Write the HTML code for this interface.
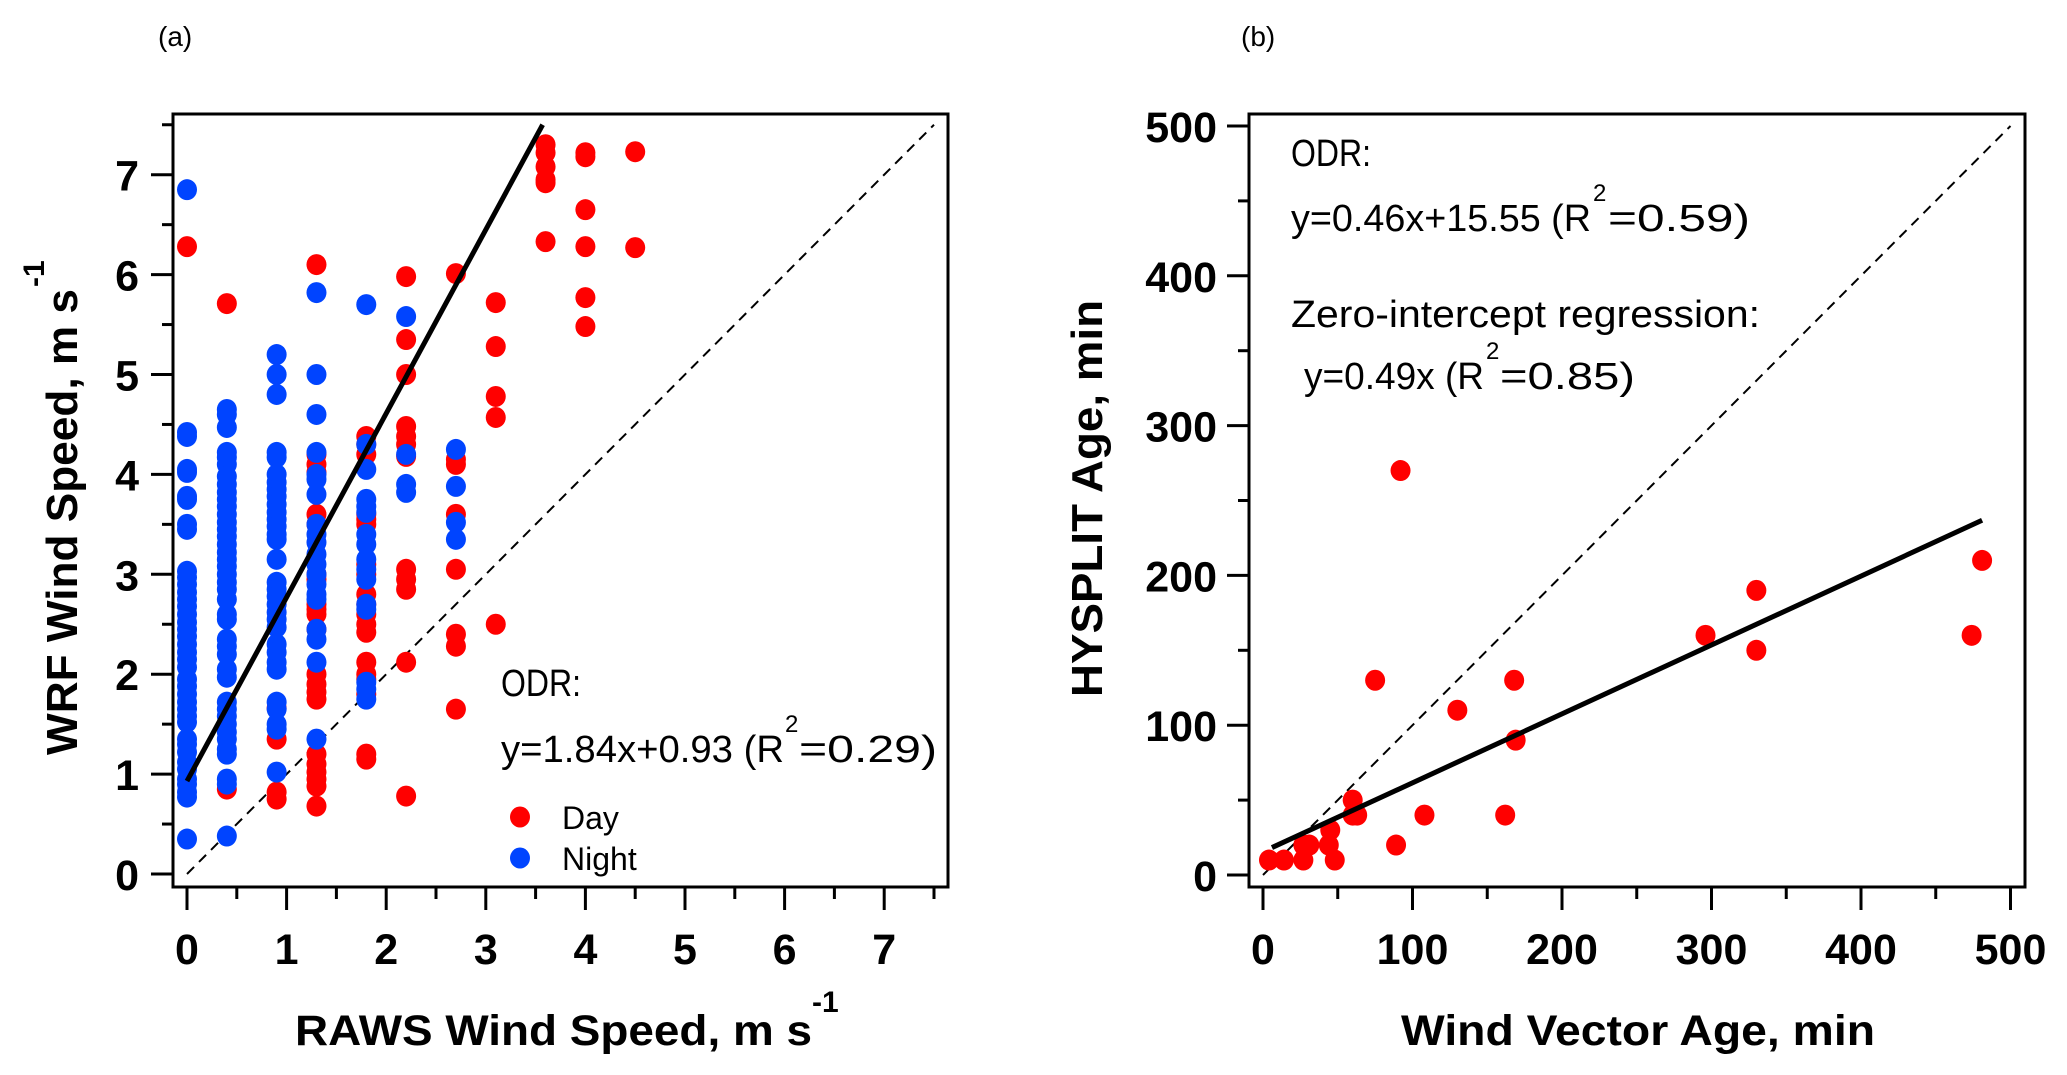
<!DOCTYPE html>
<html><head><meta charset="utf-8"><style>
html,body{margin:0;padding:0;background:#fff}
svg{display:block}
text{font-family:"Liberation Sans",Arial,sans-serif}
</style></head><body>
<svg id="fig" width="2067" height="1075" viewBox="0 0 2067 1075" xmlns="http://www.w3.org/2000/svg">
<text x="158" y="46" font-size="28">(a)</text>
<text x="1241" y="46" font-size="28">(b)</text>
<g id="pa"></g>
<g id="pb"></g>
</svg>
<script>
// ---- Panel A data ----
const aDayX = [0, 0.4,0.4, 0.9,0.9,0.9,0.9,
 1.3,1.3,1.3,1.3,1.3,1.3,1.3,1.3,1.3,1.3,1.3,1.3,1.3,1.3,1.3,1.3,1.3,1.3,1.3,1.3,1.3,1.3,
 1.8,1.8,1.8,1.8,1.8,1.8,1.8,1.8,1.8,1.8,1.8,1.8,1.8,1.8,1.8,1.8,1.8,1.8,1.8,
 2.2,2.2,2.2,2.2,2.2,2.2,2.2,2.2,2.2,2.2,2.2,2.2,
 2.7,2.7,2.7,2.7,2.7,2.7,2.7,2.7,
 3.1,3.1,3.1,3.1,3.1,
 3.6,3.6,3.6,3.6,3.6,3.6,
 4.0,4.0,4.0,4.0,4.0,4.0,
 4.5,4.5];
const aDayY = [6.28, 5.71,0.85, 1.66,1.35,0.82,0.75,
 6.1,4.2,4.1,4.02,3.6,3.5,3.0,2.95,2.7,2.65,2.6,2.45,2.0,1.9,1.82,1.75,1.2,1.1,1.02,0.95,0.88,0.68,
 4.38,4.3,4.2,3.6,3.55,3.5,3.1,3.0,2.8,2.7,2.6,2.5,2.42,2.12,2.0,1.95,1.8,1.2,1.15,
 5.98,5.35,5.0,4.48,4.38,4.3,4.18,3.05,2.95,2.85,2.12,0.78,
 6.01,4.15,4.1,3.6,3.05,2.4,2.28,1.65,
 5.72,5.28,4.78,4.57,2.5,
 7.3,7.22,7.08,6.95,6.92,6.33,
 7.22,7.18,6.65,6.28,5.77,5.48,
 7.23,6.27];
const aNightX0 = [6.85,4.42,4.38,4.05,4.02,3.78,3.75,3.5,3.45,3.03,2.97,2.9,2.82,2.75,2.68,2.6,2.52,2.45,2.38,2.3,2.22,2.15,2.07,1.95,1.88,1.8,1.72,1.65,1.58,1.52,1.35,1.3,1.22,1.12,1.05,0.95,0.9,0.82,0.77,0.35];
const aNightX04 = [4.65,4.6,4.47,4.22,4.17,4.1,3.98,3.9,3.82,3.75,3.68,3.6,3.52,3.45,3.38,3.3,3.22,3.15,3.08,3.0,2.92,2.85,2.75,2.6,2.55,2.35,2.28,2.2,2.05,1.97,1.72,1.65,1.58,1.5,1.42,1.35,1.25,1.2,0.95,0.9,0.38];
const aNightX09 = [5.2,5.0,4.8,4.22,4.17,4.0,3.92,3.85,3.78,3.7,3.62,3.55,3.48,3.4,3.35,3.15,2.92,2.85,2.78,2.7,2.62,2.55,2.47,2.3,2.22,2.12,2.05,1.72,1.65,1.5,1.45,1.02];
const aNightX13 = [5.82,5.0,4.6,4.22,4.0,3.95,3.8,3.5,3.4,3.32,3.2,3.1,3.0,2.9,2.8,2.75,2.45,2.35,2.12,1.35];
const aNightX18 = [5.7,4.3,4.05,3.75,3.68,3.62,3.4,3.3,3.15,3.05,2.95,2.7,2.65,1.92,1.85,1.75];
const aNightX22 = [5.58,4.2,3.9,3.82];
const aNightX27 = [4.25,3.88,3.52,3.35];
const aNightCols = [0,0.4,0.9,1.3,1.8,2.2,2.7];
const aTicks = [0,1,2,3,4,5,6,7];
const aFit = [1.84,0.93];
// ---- Panel B data ----
const bX = [4,14,27,27,31,44,45,48,60,60,63,89,75,92,108,130,162,168,169,296,330,330,474,481];
const bY = [10,10,10,20,20,20,30,10,50,40,40,20,130,270,40,110,40,130,90,160,190,150,160,210];
const bTicks = [0,100,200,300,400,500];
const bFit = [0.46,15.55];

const NS="http://www.w3.org/2000/svg";
function mk(parent,tag,attrs,txt){const e=document.createElementNS(NS,tag);for(const k in attrs)e.setAttribute(k,attrs[k]);if(txt!==undefined)e.textContent=txt;parent.appendChild(e);return e;}

// ===== Panel A =====
const A=document.getElementById('pa');
const ax=v=>187+v*99.6, ay=v=>874-v*99.9;
let f=mk(A,'rect',{x:173,y:114,width:775,height:773,fill:'none',stroke:'#000','stroke-width':3});


for(let i=0;i<=15;i++){const v=i*0.5;const l=mk(A,'line',{x1:ax(v),x2:ax(v),y1:887,y2:i%2?899:910,stroke:'#000','stroke-width':3});

}
for(let i=0;i<=15;i++){const v=i*0.5;const l=mk(A,'line',{x1:i%2?162:151,x2:173,y1:ay(v),y2:ay(v),stroke:'#000','stroke-width':3});

}
aTicks.forEach(v=>{let t=mk(A,'text',{x:ax(v),y:964,'font-size':43,'font-weight':'bold','text-anchor':'middle'},String(v));


t=mk(A,'text',{x:139,y:ay(v)+16,'font-size':43,'font-weight':'bold','text-anchor':'end'},String(v));

});
let t=mk(A,'text',{x:295,y:1045,'font-size':43,'font-weight':'bold',textLength:517,lengthAdjust:'spacingAndGlyphs'},'RAWS Wind Speed, m s');


t=mk(A,'text',{x:812,y:1012,'font-size':30,'font-weight':'bold'},'-1');


t=mk(A,'text',{x:0,y:0,'font-size':44,'font-weight':'bold',textLength:466,lengthAdjust:'spacingAndGlyphs',transform:'translate(77,755) rotate(-90)'},'WRF Wind Speed, m s');


t=mk(A,'text',{x:0,y:0,'font-size':30,'font-weight':'bold',transform:'translate(44,287) rotate(-90)'},'-1');


let d=mk(A,'line',{x1:ax(0),y1:ay(0),x2:ax(7.5),y2:ay(7.5),stroke:'#000','stroke-width':2,'stroke-dasharray':'10,7'});


aDayX.forEach((x,i)=>{const c=mk(A,'ellipse',{cx:ax(x),cy:ay(aDayY[i]),rx:10,ry:10.5,fill:'#ff0000'});

});
[aNightX0,aNightX04,aNightX09,aNightX13,aNightX18,aNightX22,aNightX27].forEach((arr,k)=>arr.forEach(y=>{const c=mk(A,'ellipse',{cx:ax(aNightCols[k]),cy:ay(y),rx:10,ry:10.5,fill:'#0044ff'});

}));
const xe=(7.5-aFit[1])/aFit[0];
d=mk(A,'line',{x1:ax(0),y1:ay(aFit[1]),x2:ax(xe),y2:ay(7.5),stroke:'#000','stroke-width':5});


t=mk(A,'text',{x:501,y:696,'font-size':38,textLength:80,lengthAdjust:'spacingAndGlyphs'},'ODR:');


t=mk(A,'text',{x:501,y:762,'font-size':38},'y=1.84x+0.93 (R');


t.setAttribute('textLength','283');t.setAttribute('lengthAdjust','spacingAndGlyphs');
t=mk(A,'text',{x:785,y:732,'font-size':24},'2');


t=mk(A,'text',{x:799,y:762,'font-size':38,textLength:138,lengthAdjust:'spacingAndGlyphs'},'=0.29)');


let c=mk(A,'ellipse',{cx:520,cy:817,rx:10,ry:10.5,fill:'#ff0000'});


t=mk(A,'text',{x:562,y:829,'font-size':32},'Day');


c=mk(A,'ellipse',{cx:520,cy:858,rx:10,ry:10.5,fill:'#0044ff'});


t=mk(A,'text',{x:562,y:870,'font-size':32},'Night');



// ===== Panel B =====
const B=document.getElementById('pb');
const bx=v=>1263+v*1.495, by=v=>875-v*1.498;
f=mk(B,'rect',{x:1249,y:114,width:776,height:773,fill:'none',stroke:'#000','stroke-width':3});


for(let i=0;i<=10;i++){const v=i*50;const l=mk(B,'line',{x1:bx(v),x2:bx(v),y1:887,y2:i%2?899:910,stroke:'#000','stroke-width':3});

}
for(let i=0;i<=10;i++){const v=i*50;const l=mk(B,'line',{x1:i%2?1238:1227,x2:1249,y1:by(v),y2:by(v),stroke:'#000','stroke-width':3});

}
bTicks.forEach(v=>{let t=mk(B,'text',{x:bx(v),y:964,'font-size':43,'font-weight':'bold','text-anchor':'middle'},String(v));


t=mk(B,'text',{x:1217,y:by(v)+16,'font-size':43,'font-weight':'bold','text-anchor':'end'},String(v));

});
t=mk(B,'text',{x:1401,y:1045,'font-size':43,'font-weight':'bold',textLength:474,lengthAdjust:'spacingAndGlyphs'},'Wind Vector Age, min');


t=mk(B,'text',{x:0,y:0,'font-size':44,'font-weight':'bold',textLength:397,lengthAdjust:'spacingAndGlyphs',transform:'translate(1102,697) rotate(-90)'},'HYSPLIT Age, min');


d=mk(B,'line',{x1:bx(0),y1:by(0),x2:bx(500),y2:by(500),stroke:'#000','stroke-width':2,'stroke-dasharray':'10,7'});


bX.forEach((x,i)=>{const c=mk(B,'ellipse',{cx:bx(x),cy:by(bY[i]),rx:10,ry:10.5,fill:'#ff0000'});

});
d=mk(B,'line',{x1:bx(6),y1:by(bFit[0]*6+bFit[1]),x2:bx(481),y2:by(bFit[0]*481+bFit[1]),stroke:'#000','stroke-width':5});


t=mk(B,'text',{x:1291,y:166,'font-size':38,textLength:80,lengthAdjust:'spacingAndGlyphs'},'ODR:');


t=mk(B,'text',{x:1291,y:231,'font-size':38,textLength:300,lengthAdjust:'spacingAndGlyphs'},'y=0.46x+15.55 (R');


t=mk(B,'text',{x:1593,y:201,'font-size':24},'2');


t=mk(B,'text',{x:1608,y:231,'font-size':38,textLength:142,lengthAdjust:'spacingAndGlyphs'},'=0.59)');


t=mk(B,'text',{x:1291,y:327,'font-size':38,textLength:469,lengthAdjust:'spacingAndGlyphs'},'Zero-intercept regression:');


t=mk(B,'text',{x:1304,y:389,'font-size':38,textLength:180,lengthAdjust:'spacingAndGlyphs'},'y=0.49x (R');


t=mk(B,'text',{x:1486,y:359,'font-size':24},'2');


t=mk(B,'text',{x:1500,y:389,'font-size':38,textLength:135,lengthAdjust:'spacingAndGlyphs'},'=0.85)');


</script>
</body></html>
